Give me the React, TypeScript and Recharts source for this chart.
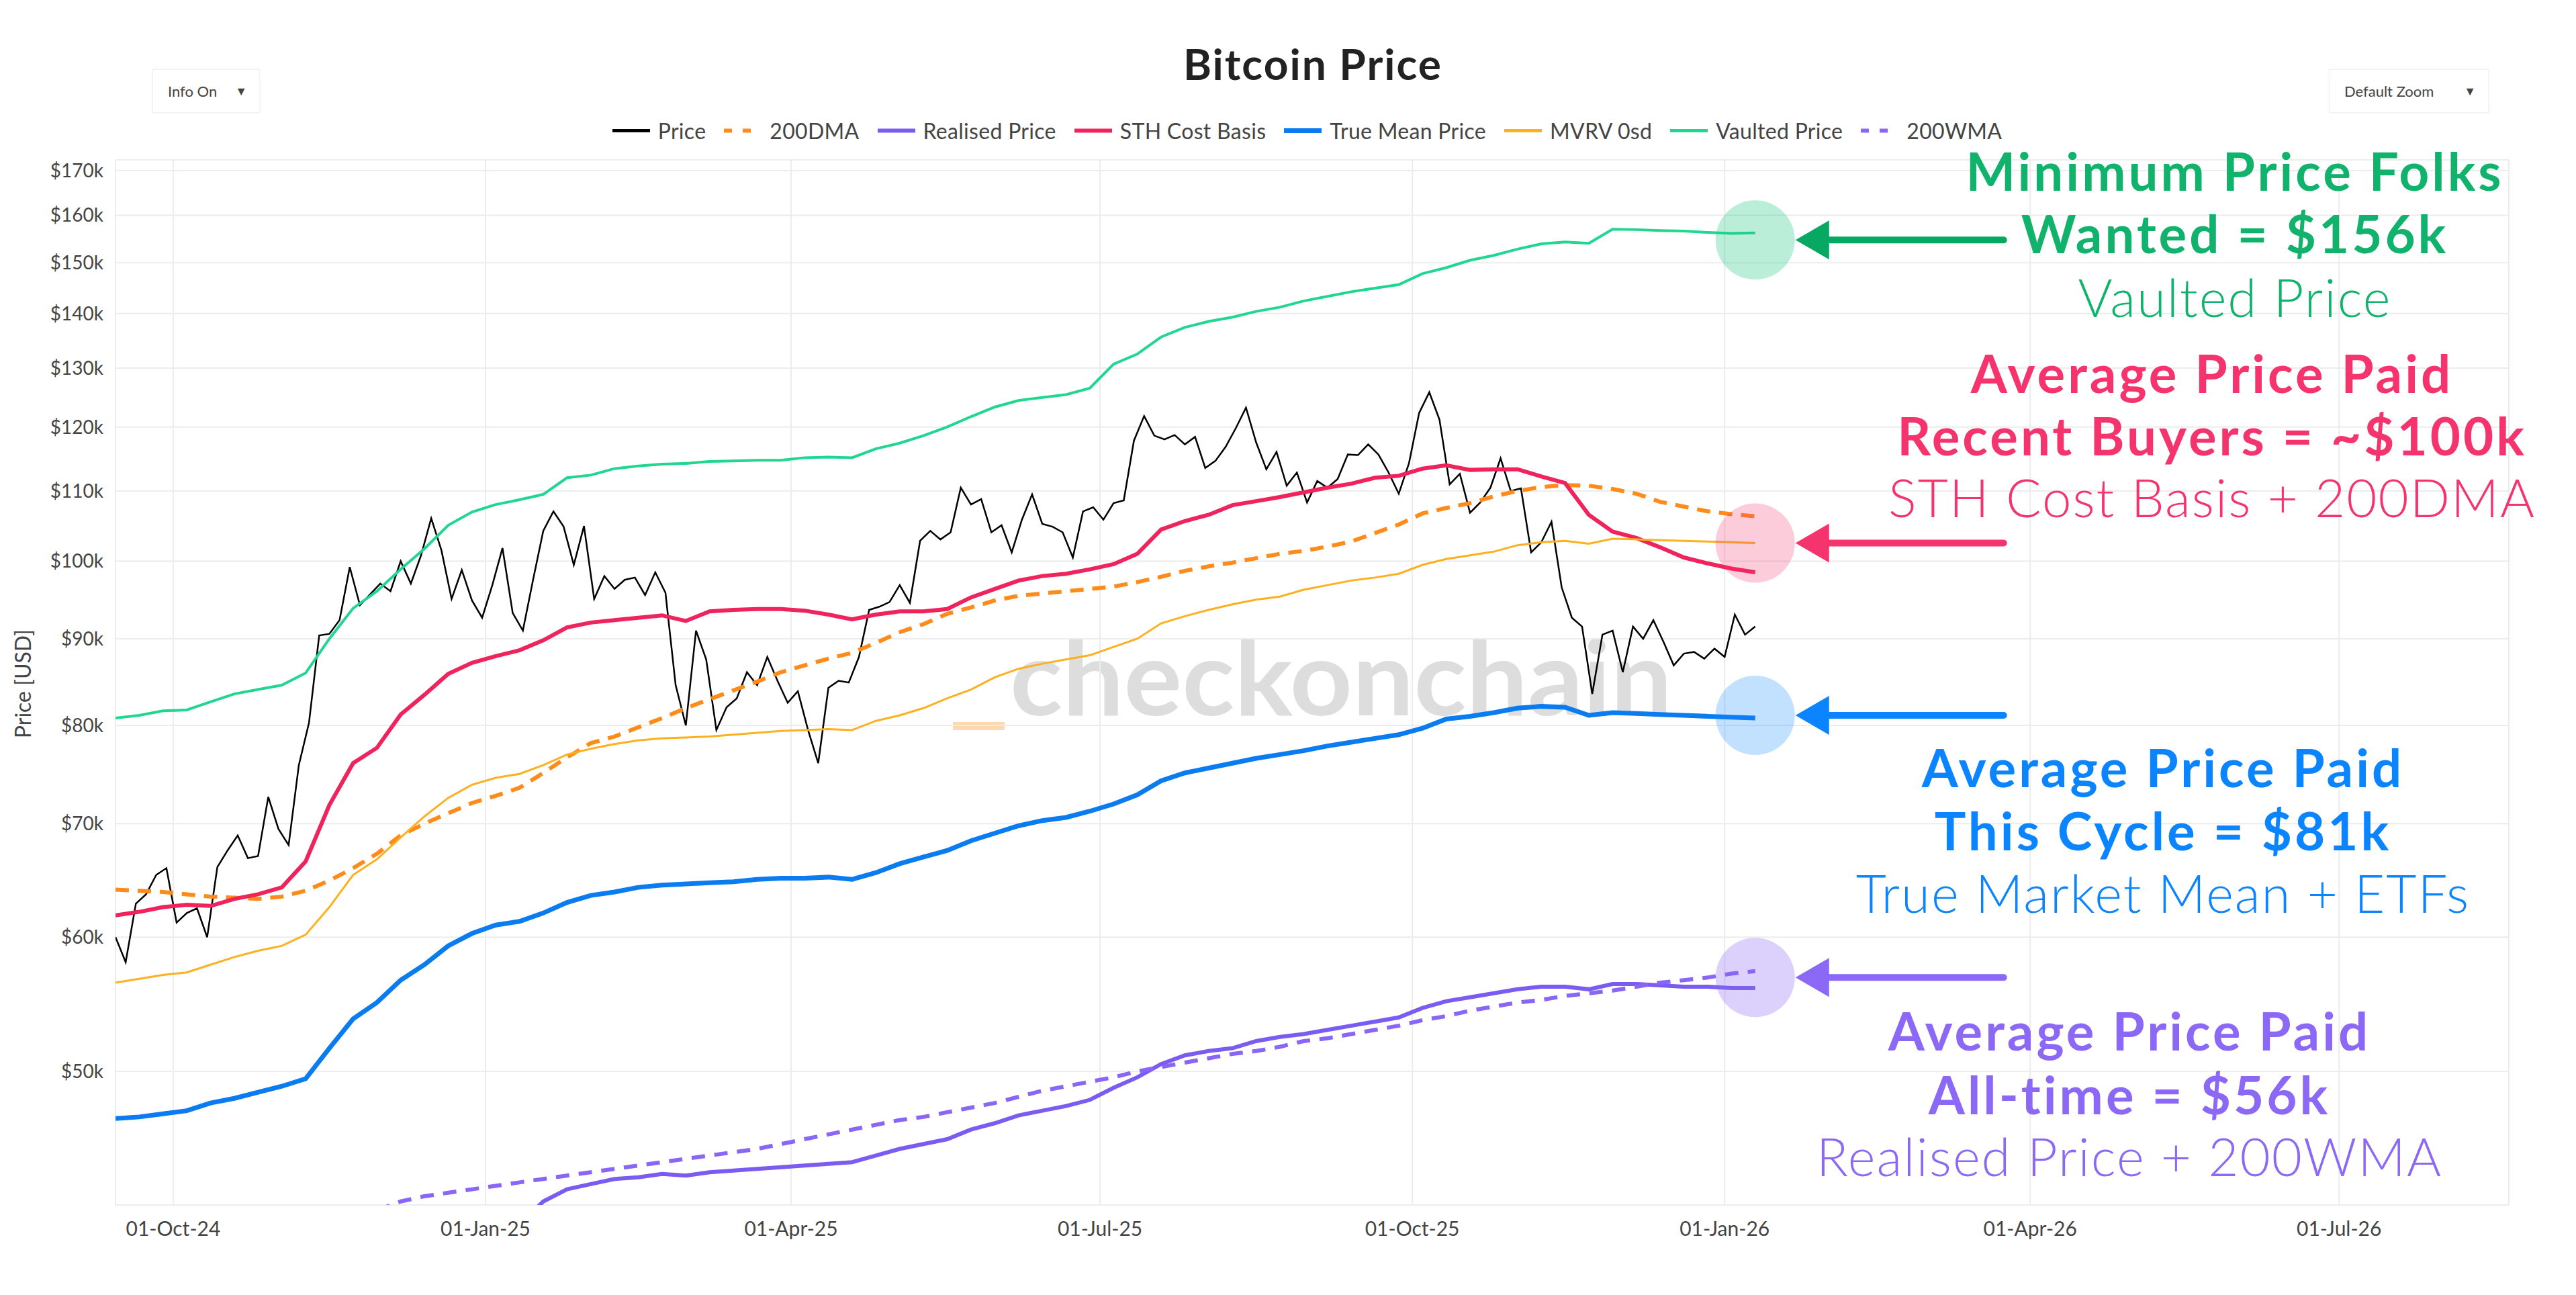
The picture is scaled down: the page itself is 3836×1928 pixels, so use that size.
import React from 'react';
import { LineChart, Line, XAxis, YAxis, CartesianGrid, ReferenceDot } from 'recharts';

const WIDTH = 3836;
const HEIGHT = 1928;
const FONT = 'Lato, "Open Sans", sans-serif';

// x values are day numbers counted from 01-Oct-24
const ORIGIN = Date.UTC(2024, 9, 1);
const dayOf = (iso: string) => Math.round((Date.parse(iso + 'T00:00:00Z') - ORIGIN) / 86400000);

const xDomainDates = ['2024-09-14', '2026-08-20'];
const xTickDates = ['2024-10-01', '2025-01-01', '2025-04-01', '2025-07-01', '2025-10-01', '2026-01-01', '2026-04-01', '2026-07-01'];
const xTickLabels = ['01-Oct-24', '01-Jan-25', '01-Apr-25', '01-Jul-25', '01-Oct-25', '01-Jan-26', '01-Apr-26', '01-Jul-26'];

// prices in $k, log axis
const yDomain = [41.7, 172.5];
const yTicks = [50, 60, 70, 80, 90, 100, 110, 120, 130, 140, 150, 160, 170];
const yTickLabels = ['$50k', '$60k', '$70k', '$80k', '$90k', '$100k', '$110k', '$120k', '$130k', '$140k', '$150k', '$160k', '$170k'];

// BTC price, one reading every 3 days from 14-Sep-24
const priceStart = '2024-09-14';
const priceStep = 3;
const price = [
  60.0, 58.0, 62.8, 63.6, 65.3, 65.9, 61.2, 62.0, 62.4, 60.0,
  66.0, 67.5, 68.9, 66.8, 67.0, 72.6, 69.5, 68.0, 75.8, 80.3,
  90.4, 90.6, 92.3, 99.2, 94.2, 95.6, 97.0, 96.0, 100.0, 97.0,
  100.8, 106.0, 101.5, 95.0, 98.8, 94.8, 92.6, 96.8, 101.8, 93.2,
  91.0, 97.5, 104.2, 107.0, 104.8, 99.5, 104.9, 95.0, 98.0, 96.3,
  97.5, 97.8, 95.5, 98.5, 95.8, 84.5, 80.0, 91.0, 87.5, 79.5,
  82.0, 83.0, 86.0, 84.5, 87.8, 85.0, 82.5, 83.8, 79.5, 76.0,
  84.2, 85.0, 84.8, 87.8, 93.6, 94.0, 94.6, 96.8, 94.5, 102.8,
  104.2, 103.0, 104.0, 110.5, 108.0, 108.8, 104.0, 105.0, 101.2, 105.8,
  109.5, 105.2, 104.8, 104.0, 100.5, 107.0, 107.6, 105.8, 108.2, 108.6,
  117.8, 121.8, 118.6, 118.0, 118.7, 117.2, 118.4, 113.5, 114.6, 116.8,
  119.8, 123.2, 117.5, 113.3, 116.0, 110.8, 112.8, 108.3, 111.5, 110.5,
  111.8, 115.6, 115.5, 117.2, 115.6, 112.8, 109.6, 114.2, 122.3, 125.8,
  121.2, 111.0, 112.6, 106.8, 108.3, 110.5, 115.0, 110.0, 110.4, 101.2,
  102.6, 105.5, 96.5, 92.6, 91.5, 83.5, 90.5, 91.0, 86.0, 91.5,
  90.0, 92.3, 89.6, 86.8, 88.2, 88.4, 87.6, 88.8, 87.8, 93.0,
  90.5, 91.5,
];

// on-chain models, one reading per week from 14-Sep-24
const weeklyStart = '2024-09-14';
const weeklyStep = 7;
const dma200 = [
  64.0, 63.9, 63.8, 63.6, 63.4, 63.3, 63.2, 63.4, 63.9, 64.8,
  65.9, 67.2, 68.9, 70.0, 71.0, 72.0, 72.7, 73.5, 75.0, 76.6,
  78.1, 78.8, 79.8, 80.8, 81.9, 82.9, 83.9, 84.9, 86.0, 86.8,
  87.6, 88.3, 89.5, 90.8, 91.8, 93.1, 93.9, 94.8, 95.4, 95.7,
  96.0, 96.3, 96.6, 97.2, 97.9, 98.7, 99.3, 99.8, 100.4, 101.0,
  101.4, 102.0, 102.7, 103.9, 105.1, 106.7, 107.5, 108.2, 109.2, 110.0,
  110.6, 110.9, 110.8, 110.3, 109.6, 108.4, 107.7, 107.0, 106.6, 106.3,
];
const sthCostBasis = [
  61.8, 62.1, 62.5, 62.7, 62.6, 63.2, 63.6, 64.2, 66.5, 71.8,
  76.0, 77.6, 81.2, 83.4, 85.8, 87.1, 87.9, 88.6, 89.8, 91.4,
  92.0, 92.3, 92.6, 92.9, 92.2, 93.4, 93.6, 93.7, 93.7, 93.5,
  93.0, 92.4, 93.0, 93.4, 93.4, 93.7, 95.2, 96.3, 97.4, 98.0,
  98.3, 98.9, 99.6, 101.0, 104.4, 105.6, 106.5, 107.9, 108.5, 109.1,
  109.8, 110.5, 111.1, 112.0, 112.3, 113.4, 113.9, 113.2, 113.3, 113.3,
  112.2, 111.2, 106.5, 104.1, 103.2, 101.9, 100.5, 99.7, 99.0, 98.5,
];
const trueMeanPrice = [
  46.9, 47.0, 47.2, 47.4, 47.9, 48.2, 48.6, 49.0, 49.5, 51.6,
  53.7, 54.9, 56.6, 57.8, 59.3, 60.3, 61.0, 61.3, 62.0, 62.9,
  63.5, 63.8, 64.2, 64.4, 64.5, 64.6, 64.7, 64.9, 65.0, 65.0,
  65.1, 64.9, 65.5, 66.3, 66.9, 67.5, 68.4, 69.1, 69.8, 70.3,
  70.6, 71.2, 71.9, 72.8, 74.2, 75.0, 75.5, 76.0, 76.5, 76.9,
  77.3, 77.8, 78.2, 78.6, 79.0, 79.7, 80.7, 81.0, 81.4, 81.9,
  82.1, 82.0, 81.1, 81.4, 81.3, 81.2, 81.1, 81.0, 80.9, 80.8,
];
const mvrv0sd = [
  56.4, 56.7, 57.0, 57.2, 57.8, 58.4, 58.9, 59.3, 60.2, 62.5,
  65.3, 66.7, 68.7, 70.7, 72.5, 73.8, 74.5, 74.9, 75.8, 76.9,
  77.5, 78.0, 78.4, 78.6, 78.7, 78.8, 79.0, 79.2, 79.4, 79.5,
  79.6, 79.5, 80.5, 81.1, 81.9, 83.0, 84.0, 85.4, 86.4, 87.0,
  87.5, 88.0, 89.0, 90.0, 91.9, 92.8, 93.6, 94.3, 94.9, 95.3,
  96.2, 96.8, 97.4, 97.8, 98.3, 99.5, 100.3, 100.8, 101.3, 102.2,
  102.6, 102.8, 102.4, 103.1, 103.0, 102.9, 102.8, 102.7, 102.6, 102.5,
];
const vaultedPrice = [
  80.8, 81.1, 81.6, 81.7, 82.6, 83.5, 84.0, 84.5, 85.9, 90.0,
  93.8, 96.0, 98.9, 101.7, 105.0, 106.9, 108.0, 108.7, 109.5, 112.0,
  112.4, 113.4, 113.8, 114.1, 114.2, 114.5, 114.6, 114.7, 114.7, 115.1,
  115.2, 115.1, 116.5, 117.4, 118.6, 120.0, 121.7, 123.3, 124.4, 124.9,
  125.4, 126.5, 130.7, 132.5, 135.6, 137.4, 138.5, 139.3, 140.4, 141.2,
  142.4, 143.3, 144.2, 144.9, 145.6, 147.8, 149.0, 150.5, 151.5, 152.8,
  153.9, 154.3, 154.0, 157.0, 156.9, 156.7, 156.6, 156.3, 156.1, 156.2,
];
// these two only come into view later, weekly from their own start
const realisedStart = '2025-01-11';
const realisedPrice = [
  40.6, 41.9, 42.6, 42.9, 43.2, 43.3, 43.5, 43.4, 43.6, 43.7,
  43.8, 43.9, 44.0, 44.1, 44.2, 44.6, 45.0, 45.3, 45.6, 46.2,
  46.6, 47.1, 47.4, 47.7, 48.1, 48.9, 49.6, 50.5, 51.1, 51.4,
  51.6, 52.1, 52.4, 52.6, 52.9, 53.2, 53.5, 53.8, 54.5, 55.0,
  55.3, 55.6, 55.9, 56.1, 56.1, 55.9, 56.3, 56.3, 56.2, 56.1,
  56.1, 56.0, 56.0,
];
const wmaStart = '2024-11-30';
const wma200 = [
  41.4, 41.9, 42.2, 42.4, 42.6, 42.8, 43.0, 43.2, 43.4, 43.6,
  43.8, 44.0, 44.2, 44.4, 44.6, 44.8, 45.0, 45.3, 45.6, 45.9,
  46.2, 46.5, 46.8, 47.0, 47.3, 47.6, 47.9, 48.3, 48.7, 49.0,
  49.3, 49.6, 50.0, 50.3, 50.6, 50.9, 51.2, 51.4, 51.7, 52.1,
  52.3, 52.6, 52.9, 53.2, 53.6, 53.9, 54.3, 54.6, 54.9, 55.1,
  55.4, 55.6, 55.8, 56.1, 56.4, 56.6, 56.8, 57.1, 57.3,
];

const rows = (start: string, step: number, values: number[]) =>
  values.map((v, i) => ({ t: dayOf(start) + i * step, v }));

const series = [
  { name: 'Price', color: '#000000', width: 2.5, dash: '', data: rows(priceStart, priceStep, price) },
  { name: '200DMA', color: '#ff8c1a', width: 6, dash: '20 13', data: rows(weeklyStart, weeklyStep, dma200) },
  { name: 'Realised Price', color: '#7b5cf2', width: 6, dash: '', data: rows(realisedStart, weeklyStep, realisedPrice) },
  { name: 'STH Cost Basis', color: '#f0245c', width: 6, dash: '', data: rows(weeklyStart, weeklyStep, sthCostBasis) },
  { name: 'True Mean Price', color: '#0a7cf0', width: 7, dash: '', data: rows(weeklyStart, weeklyStep, trueMeanPrice) },
  { name: 'MVRV 0sd', color: '#ffb020', width: 3, dash: '', data: rows(weeklyStart, weeklyStep, mvrv0sd) },
  { name: 'Vaulted Price', color: '#20d690', width: 4, dash: '', data: rows(weeklyStart, weeklyStep, vaultedPrice) },
  { name: '200WMA', color: '#8a66f8', width: 6, dash: '20 14', data: rows(wmaStart, weeklyStep, wma200) },
];

// callouts: level in $k where the circle and arrow sit, and the text beside it
const callouts = [
  {
    level: 154.7, fill: 'rgba(26,200,130,0.3)', arrow: '#06a862', color: '#10b26c', cx: 3328,
    lines: [['Minimum Price Folks', 700, 254], ['Wanted = $156k', 700, 347], ['Vaulted Price', 300, 442]],
  },
  {
    level: 102.5, fill: 'rgba(245,51,109,0.25)', arrow: '#f5336d', color: '#f5336d', cx: 3294,
    lines: [['Average Price Paid', 700, 555], ['Recent Buyers = ~$100k', 700, 648], ['STH Cost Basis + 200DMA', 300, 740]],
  },
  {
    level: 81.1, fill: 'rgba(10,132,255,0.25)', arrow: '#0a84ff', color: '#0a84ff', cx: 3221,
    lines: [['Average Price Paid', 700, 1142], ['This Cycle = $81k', 700, 1236], ['True Market Mean + ETFs', 300, 1329]],
  },
  {
    level: 56.8, fill: 'rgba(139,104,246,0.3)', arrow: '#8b68f6', color: '#8b68f6', cx: 3171,
    lines: [['Average Price Paid', 700, 1534], ['All-time = $56k', 700, 1629], ['Realised Price + 200WMA', 300, 1721]],
  },
];

const lastDay = dayOf(weeklyStart) + (vaultedPrice.length - 1) * weeklyStep;

function Callout(props: any) {
  const { cx, cy, fill, arrow } = props;
  return (
    <g>
      <circle cx={cx} cy={cy} r={59} fill={fill} />
      <path d={`M${cx + 60} ${cy} L${cx + 110} ${cy - 29} L${cx + 110} ${cy + 29} Z`} fill={arrow} />
      <line x1={cx + 105} y1={cy} x2={cx + 370} y2={cy} stroke={arrow} strokeWidth={10} strokeLinecap="round" />
    </g>
  );
}

function Legend() {
  return (
    <div style={{
      position: 'absolute', left: 0, width: 3914, top: 194, transform: 'translateY(-50%)',
      display: 'flex', justifyContent: 'center', alignItems: 'center',
      fontFamily: FONT, fontSize: 32, color: '#444', whiteSpace: 'nowrap', letterSpacing: 0.3,
    }}>
      {series.map((s) => (
        <div key={s.name} style={{ display: 'flex', alignItems: 'center', marginRight: 24 }}>
          <svg width={62} height={12}>
            <line x1={3} y1={6} x2={59} y2={6} stroke={s.color} strokeWidth={Math.max(s.width, 5)}
              strokeDasharray={s.dash ? '12 16' : undefined} />
          </svg>
          <span style={{ marginLeft: 9 }}>{s.name}</span>
        </div>
      ))}
    </div>
  );
}

function DropBox({ left, width, label }: { left: number; width: number; label: string }) {
  return (
    <div style={{
      position: 'absolute', left, top: 103, width, height: 65, boxSizing: 'border-box',
      border: '1px solid #f2f2f2', boxShadow: '0 0 4px rgba(0,0,0,0.06)',
      display: 'flex', alignItems: 'center', justifyContent: 'space-between',
      padding: '0 18px 0 22px', fontFamily: FONT, fontSize: 22, color: '#444',
    }}>
      <span>{label}</span>
      <span style={{ fontSize: 18 }}>▼</span>
    </div>
  );
}

export default function App() {
  const xDomain = xDomainDates.map(dayOf);
  const xTicks = xTickDates.map(dayOf);

  return (
    <div style={{ position: 'absolute', left: 0, top: 0, width: WIDTH, height: HEIGHT, background: '#fff', overflow: 'hidden' }}>
      {/* watermark sits under the chart */}
      <svg width={WIDTH} height={HEIGHT} style={{ position: 'absolute', left: 0, top: 0 }}>
        <rect x={1419} y={1075} width={77} height={12} fill="#fcd9b0" />
        <text x={1504} y={1065} fontFamily={FONT} fontWeight={700} fontSize={155} fill="#dddddd"
          textLength={986} lengthAdjust="spacingAndGlyphs">checkonchain</text>
        <text transform="translate(46 1018) rotate(-90)" textAnchor="middle" fontFamily={FONT} fontSize={32} fill="#444">
          Price [USD]
        </text>
      </svg>

      <div style={{ position: 'absolute', left: 0, top: 0 }}>
        <LineChart width={WIDTH} height={HEIGHT} margin={{ top: 238, right: 100, bottom: 54, left: 22 }}>
          <CartesianGrid stroke="#ececec" strokeWidth={2} />
          <XAxis
            type="number"
            dataKey="t"
            domain={xDomain}
            ticks={xTicks}
            allowDataOverflow
            tickFormatter={(v) => xTickLabels[xTicks.indexOf(v)] ?? ''}
            axisLine={false}
            tickLine={false}
            tickSize={0}
            tickMargin={25}
            height={80}
            tick={{ fontSize: 30, fill: '#444', fontFamily: FONT }}
          />
          <YAxis
            scale="log"
            domain={yDomain}
            ticks={yTicks}
            allowDataOverflow
            tickFormatter={(v) => yTickLabels[yTicks.indexOf(v)] ?? ''}
            axisLine={false}
            tickLine={false}
            tickSize={0}
            tickMargin={18}
            width={150}
            tick={{ fontSize: 28, fill: '#444', fontFamily: FONT }}
          />
          {series.map((s) => (
            <Line
              key={s.name}
              data={s.data}
              dataKey="v"
              name={s.name}
              type="linear"
              stroke={s.color}
              strokeWidth={s.width}
              strokeDasharray={s.dash || undefined}
              dot={false}
              activeDot={false}
              isAnimationActive={false}
            />
          ))}
          {callouts.map((c) => (
            <ReferenceDot
              key={c.level}
              x={lastDay}
              y={c.level}
              r={59}
              ifOverflow="visible"
              shape={(p: any) => <Callout {...p} fill={c.fill} arrow={c.arrow} />}
            />
          ))}
        </LineChart>
      </div>

      <div style={{
        position: 'absolute', left: 1955, top: 95, transform: 'translate(-50%, -50%)',
        fontFamily: FONT, fontWeight: 700, fontSize: 64, letterSpacing: 2, color: '#222', lineHeight: 1, whiteSpace: 'nowrap',
      }}>Bitcoin Price</div>
      <DropBox left={227} width={160} label="Info On" />
      <DropBox left={3468} width={238} label="Default Zoom" />
      <Legend />

      {callouts.map((c) =>
        c.lines.map(([text, weight, y]) => (
          <div key={String(text)} style={{
            position: 'absolute', left: c.cx, top: y as number, transform: 'translate(-50%, -50%)',
            fontFamily: FONT, fontWeight: weight as number, fontSize: 78,
            letterSpacing: weight === 700 ? 4 : 2, color: c.color,
            lineHeight: 1, whiteSpace: 'nowrap',
          }}>{text}</div>
        )),
      )}
    </div>
  );
}
